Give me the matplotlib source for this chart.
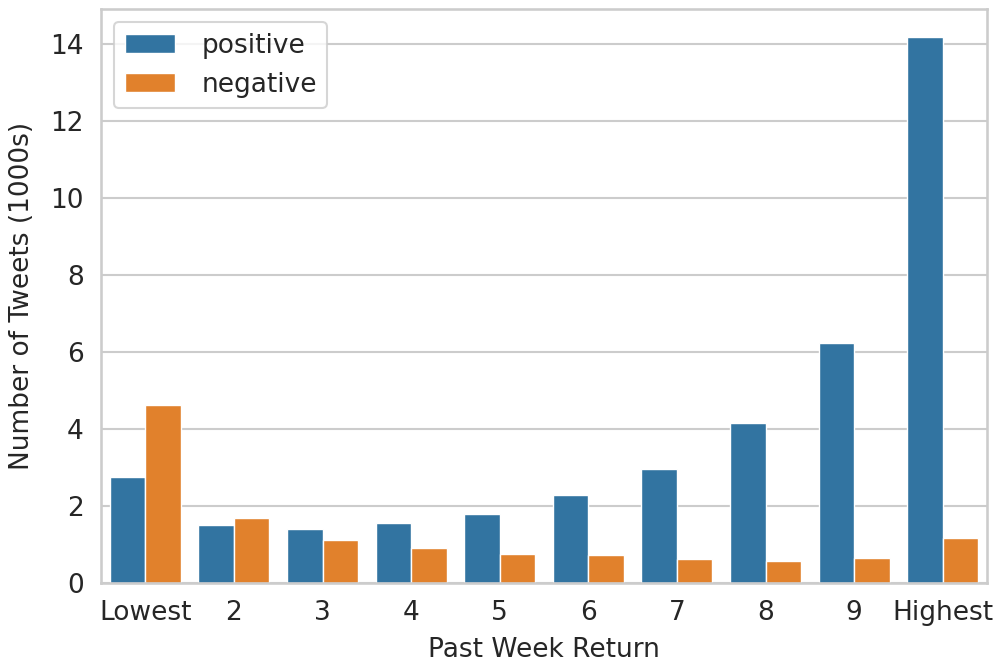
import matplotlib
matplotlib.use("Agg")
import matplotlib.pyplot as plt
import numpy as np
import seaborn as sns

categories = ["Lowest", "2", "3", "4", "5", "6", "7", "8", "9", "Highest"]
positive = [2.75, 1.50, 1.39, 1.57, 1.80, 2.28, 2.96, 4.16, 6.24, 14.17]
negative = [4.63, 1.69, 1.11, 0.91, 0.76, 0.72, 0.63, 0.58, 0.65, 1.18]
series_names = ["positive", "negative"]
colors = ["#3274a1", "#e1812c"]
yticks = [0, 2, 4, 6, 8, 10, 12, 14]

sns.set_theme(style="whitegrid", context="talk")
plt.rcParams['font.family'] = ['DejaVu Sans']
fs = 19
plt.rcParams.update({
    "xtick.labelsize": fs, "ytick.labelsize": fs,
    "axes.labelsize": fs, "legend.fontsize": fs,
})

fig = plt.figure(figsize=(10, 6.66), dpi=100)
ax = fig.add_axes([0.101, 0.1246, 0.886, 0.862])

x = np.arange(len(categories))
w = 0.4
ax.bar(x - w / 2, positive, w, color=colors[0], edgecolor="white", linewidth=1, label=series_names[0])
ax.bar(x + w / 2, negative, w, color=colors[1], edgecolor="white", linewidth=1, label=series_names[1])

ax.set_xlim(-0.5, len(categories) - 0.5)
ax.set_ylim(0, 14.9)
ax.set_xticks(x)
ax.set_xticklabels(categories)
ax.set_yticks(yticks)
ax.set_xlabel("Past Week Return", labelpad=8)
ax.set_ylabel("Number of Tweets (1000s)", labelpad=11)
ax.set_axisbelow(True)
ax.xaxis.grid(False)
ax.legend(loc="upper left", handlelength=1.9, handletextpad=1.0)

fig.savefig("out.png", dpi=100)
